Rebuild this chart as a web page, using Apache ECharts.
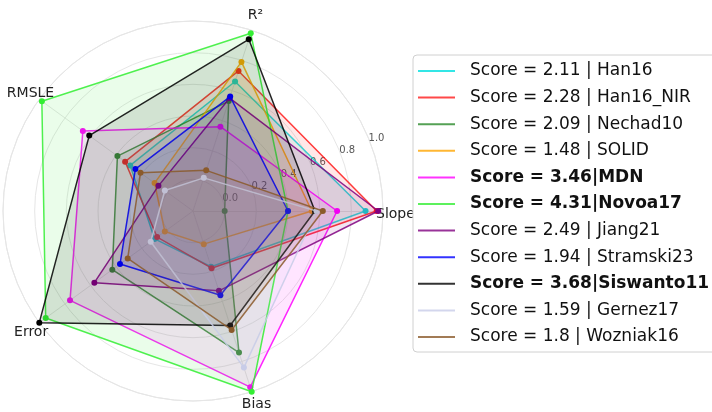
<!DOCTYPE html>
<html><head><meta charset="utf-8">
<script src="https://cdn.jsdelivr.net/npm/echarts@6/dist/echarts.min.js"></script>
<style>html,body{margin:0;padding:0;background:#fff}#c{width:712px;height:412px}</style>
</head><body><div id="c"></div>
<script>
// Axes (counter-clockwise from the right)
const indicators = ['Slope', 'R²', 'RMSLE', 'Error', 'Bias'];
const radialTicks = [0.0, 0.2, 0.4, 0.6, 0.8, 1.0];

const models = ['Han16', 'Han16_NIR', 'Nechad10', 'SOLID', 'MDN', 'Novoa17', 'Jiang21', 'Stramski23', 'Siswanto11', 'Gernez17', 'Wozniak16'];
const scores = ['2.11', '2.28', '2.09', '1.48', '3.46', '4.31', '2.49', '1.94', '3.68', '1.59', '1.8'];
const boldModels = ['MDN', 'Novoa17', 'Siswanto11'];

// values in indicator order: Slope, R², RMSLE, Error, Bias
const han16      = [0.89, 0.66, 0.29, 0.10, 0.17];
const han16Nir   = [0.96, 0.73, 0.33, 0.08, 0.18];
const nechad10   = [0.00, 0.53, 0.39, 0.43, 0.74];
const solid      = [0.55, 0.79, 0.10, 0.02, 0.02];
const mdn        = [0.71, 0.36, 0.66, 0.76, 0.97];
const novoa17    = [0.40, 0.98, 0.98, 0.95, 1.00];
const jiang21    = [0.97, 0.55, 0.07, 0.57, 0.33];
const stramski23 = [0.40, 0.56, 0.25, 0.37, 0.36];
const siswanto11 = [0.57, 0.94, 0.61, 1.00, 0.56];
const gernez17   = [0.58, 0.02, 0.02, 0.13, 0.84];
const wozniak16  = [0.62, 0.07, 0.21, 0.31, 0.59];

const seriesValues = [han16, han16Nir, nechad10, solid, mdn, novoa17, jiang21, stramski23, siswanto11, gernez17, wozniak16];
const colors = ['#00e0e0', '#ff1a1a', '#2a8a2a', '#ffa500', '#ff00ff', '#33ee33', '#800080', '#0000ff', '#000000', '#c8cce8', '#8b5a2b'];

const labels = models.map((m, i) => boldModels.includes(m) ? `Score = ${scores[i]}|${m}` : `Score = ${scores[i]} | ${m}`);

const namePads = [[6, 0, 0, 25], [0, 0, 91, 6], [0, 11, 49, 0], [57, 17, 0, 0], [87, 0, 0, 0]];
const rich = {};
indicators.forEach((n, i) => {
  rich['n' + i] = { fontSize: 14, color: '#222', fontFamily: 'DejaVu Sans', padding: namePads[i] };
});

const chart = echarts.init(document.getElementById('c'), null, { renderer: 'canvas' });
const option = {
  backgroundColor: '#fff',
  animation: false,
  radar: {
    center: [193, 211],
    radius: 190,
    startAngle: 0,
    shape: 'circle',
    splitNumber: 6,
    nameGap: -32,
    indicator: indicators.map(n => ({ name: n, min: -0.2, max: 1.0 })),
    axisName: {
      formatter: (name) => `{n${indicators.indexOf(name)}|${name}}`,
      rich: rich
    },
    axisLine: { lineStyle: { color: '#e6e6e6', width: 1 } },
    splitLine: { lineStyle: { color: '#e6e6e6', width: 1 } },
    splitArea: { show: false },
    axisTick: { show: false },
    axisLabel: { show: false }
  },
  polar: { center: [193, 211], radius: 190 },
  angleAxis: { type: 'value', min: 0, max: 360, startAngle: 22.5, show: false },
  radiusAxis: {
    type: 'value', min: -0.2, max: 1.0, interval: 0.2,
    axisLine: { show: false }, axisTick: { show: false }, splitLine: { show: false },
    axisLabel: {
      margin: 0, align: 'left', verticalAlign: 'middle', fontSize: 10, color: '#555', fontFamily: 'DejaVu Sans',
      formatter: (v) => radialTicks.some(t => Math.abs(t - v) < 1e-6) ? Math.abs(v).toFixed(1) : ''
    },
    z: 1
  },
  legend: {
    orient: 'vertical',
    left: 413, top: 55,
    padding: [6, 20, 5, 5],
    itemWidth: 37, itemHeight: 2, itemGap: 6.6,
    icon: 'rect',
    backgroundColor: '#fff',
    borderColor: '#d0d0d0', borderWidth: 1, borderRadius: 4,
    itemStyle: { opacity: 0.8 },
    textStyle: { fontSize: 17, color: '#111', fontFamily: 'DejaVu Sans', lineHeight: 20, padding: [0, 0, 0, 10] },
    data: labels.map((l, i) => boldModels.includes(models[i]) ? { name: l, textStyle: { fontWeight: 'bold' } } : { name: l })
  },
  series: [
    { type: 'scatter', coordinateSystem: 'polar', data: [], silent: true },
    ...seriesValues.map((vals, i) => ({
      type: 'radar',
      name: labels[i],
      symbol: 'circle',
      symbolSize: 6,
      z: 2 + i * 0.01,
      itemStyle: { color: colors[i] },
      lineStyle: { color: colors[i], width: 1.5, opacity: 0.85 },
      areaStyle: { color: colors[i], opacity: 0.1 },
      data: [{ name: labels[i], value: vals }]
    }))
  ]
};
chart.setOption(option);
</script>
</body></html>
